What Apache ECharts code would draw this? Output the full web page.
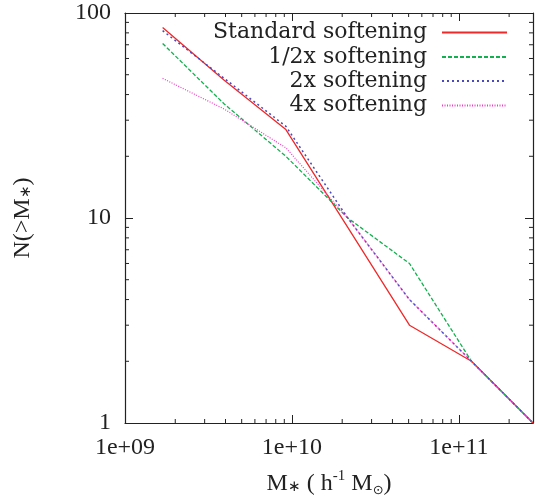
<!DOCTYPE html>
<html>
<head>
<meta charset="utf-8">
<script src="https://cdn.jsdelivr.net/npm/echarts@6/dist/echarts.min.js"></script>
<style>html,body{margin:0;padding:0;background:#fff}#c{width:535px;height:504px}</style>
</head>
<body>
<div id="c"></div>
<script>
// ---- data ----
const stellarMass = [1.68e9, 3.93e9, 9.2e9, 2.16e10, 5.06e10, 1.19e11, 2.78e11];
const standardSoftening = [85, 47, 27, 9, 3, 2, 1];
const halfSoftening = [71, 36, 20, 10, 6, 2, 1];
const doubleSoftening = [82, 48, 28, 10, 4, 2, 1];
const quadSoftening = [48, 34, 22, 10, 4, 2, 1];
const seriesNames = ['Standard softening', '1/2x softening', '2x softening', '4x softening'];
const xMin = 1e9, xMax = 2.78e11, yMin = 1, yMax = 100;
const xTickLabels = ['1e+09', '1e+10', '1e+11'];
const yTickLabels = ['1', '10', '100'];

const pairs = ys => stellarMass.map((x, i) => [x, ys[i]]);

// minor tick positions (2..9 x decade)
const xMinor = [], yMinor = [];
for (let d = 9; d <= 11; d++) for (let k = 2; k <= 9; k++) { const v = k * Math.pow(10, d); if (v < xMax) xMinor.push([v, yMin]); }
for (let d = 0; d <= 1; d++) for (let k = 2; k <= 9; k++) yMinor.push([xMin, k * Math.pow(10, d)]);

const TXT = '#222';
const tickFont = 'Liberation Serif';

function fmtX(v) {
  const l = Math.log10(v), e = Math.round(l);
  if (Math.abs(l - e) > 1e-6) return '';
  const s = xTickLabels.find(t => parseInt(t.split('+')[1], 10) === e);
  return s || '';
}
function fmtY(v) {
  const l = Math.log10(v), e = Math.round(l);
  if (Math.abs(l - e) > 1e-6) return '';
  return yTickLabels[e] || '';
}

const chart = echarts.init(document.getElementById('c'), null, {renderer: 'canvas'});

const lineSeries = (name, ys, color, type, width) => ({
  name, type: 'line', data: pairs(ys), symbol: 'none', showSymbol: false,
  xAxisIndex: 0, yAxisIndex: 0, animation: false, z: 3,
  lineStyle: {color, width, type}, itemStyle: {color}
});

const legendTops = [20.5, 45, 69, 93.5];
const legends = seriesNames.map((n, i) => ({
  data: [n], orient: 'vertical', align: 'right', right: 27, top: legendTops[i],
  padding: 0, itemWidth: 65, itemHeight: 14, selectedMode: false,
  itemStyle: {opacity: 0, color: 'transparent', borderWidth: 0},
  textStyle: {fontFamily: 'DejaVu Serif', fontSize: 22, color: TXT, lineHeight: 24, padding: [0, 10, 0, 0]}
}));

const tickStyle = {stroke: TXT, lineWidth: 1};

chart.setOption({
  animation: false,
  backgroundColor: '#fff',
  grid: {left: 125, right: 2, top: 13, bottom: 78, containLabel: false},
  legend: legends,
  xAxis: [
    {type: 'log', logBase: 10, min: xMin, max: xMax, position: 'bottom',
     axisLine: {show: true, lineStyle: {color: TXT, width: 1.2}},
     axisTick: {show: true, inside: true, length: 8, lineStyle: {color: TXT}},
     axisLabel: {show: true, formatter: fmtX, margin: 13, color: TXT, fontFamily: tickFont, fontSize: 24, showMaxLabel: false},
     splitLine: {show: false}, minorTick: {show: false},
     name: '{a|M}{s|∗}{a| ( h}{p|-1}{a| M}{o|⊙}{a|)}', nameLocation: 'middle', nameGap: 46,
     nameTextStyle: {rich: {
       a: {fontFamily: tickFont, fontSize: 24, color: TXT, lineHeight: 30},
       s: {fontFamily: tickFont, fontSize: 15, color: TXT, lineHeight: 30, padding: [6, 0, 0, 0]},
       p: {fontFamily: tickFont, fontSize: 15, color: TXT, verticalAlign: 'top', lineHeight: 30},
       o: {fontFamily: 'DejaVu Sans', fontSize: 13, color: TXT, verticalAlign: 'bottom', lineHeight: 30, padding: [0, 0, 2, 0]}
     }}},
    {type: 'log', logBase: 10, min: xMin, max: xMax, position: 'top', gridIndex: 0,
     axisLine: {show: true, lineStyle: {color: TXT, width: 1.2}},
     axisTick: {show: true, inside: true, length: 8, lineStyle: {color: TXT}},
     axisLabel: {show: false}, splitLine: {show: false}}
  ],
  yAxis: [
    {type: 'log', logBase: 10, min: yMin, max: yMax, position: 'left',
     axisLine: {show: true, lineStyle: {color: TXT, width: 1.2}},
     axisTick: {show: true, inside: true, length: 8, lineStyle: {color: TXT}},
     axisLabel: {show: true, formatter: fmtY, margin: 14, color: TXT, fontFamily: tickFont, fontSize: 24},
     splitLine: {show: false},
     name: '{a|N(>M}{s|∗}{a|)}', nameLocation: 'middle', nameGap: 87, nameRotate: 90,
     nameTextStyle: {rich: {
       a: {fontFamily: tickFont, fontSize: 24, color: TXT, lineHeight: 30},
       s: {fontFamily: tickFont, fontSize: 15, color: TXT, lineHeight: 30, padding: [6, 0, 0, 0]}
     }}},
    {type: 'log', logBase: 10, min: yMin, max: yMax, position: 'right', gridIndex: 0,
     axisLine: {show: true, lineStyle: {color: TXT, width: 1.2}},
     axisTick: {show: true, inside: true, length: 8, lineStyle: {color: TXT}},
     axisLabel: {show: false}, splitLine: {show: false}}
  ],
  series: [
    lineSeries(seriesNames[0], standardSoftening, '#f02828', 'solid', 1.3),
    lineSeries(seriesNames[1], halfSoftening, '#12b04e', [4, 2], 1.3),
    lineSeries(seriesNames[2], doubleSoftening, '#4848c0', [2, 3], 1.5),
    lineSeries(seriesNames[3], quadSoftening, '#f03cc8', [1, 1.5], 1.2),
    {type: 'custom', coordinateSystem: 'cartesian2d', xAxisIndex: 0, yAxisIndex: 0, data: xMinor, silent: true, z: 2,
     renderItem: (params, api) => {
       const v = api.value(0);
       const b = api.coord([v, yMin]), t = api.coord([v, yMax]);
       return {type: 'group', children: [
         {type: 'line', shape: {x1: b[0], y1: b[1], x2: b[0], y2: b[1] - 4}, style: tickStyle},
         {type: 'line', shape: {x1: t[0], y1: t[1], x2: t[0], y2: t[1] + 4}, style: tickStyle}
       ]};
     }},
    {type: 'custom', coordinateSystem: 'cartesian2d', xAxisIndex: 0, yAxisIndex: 0, data: yMinor, silent: true, z: 2,
     renderItem: (params, api) => {
       const v = api.value(1);
       const l = api.coord([xMin, v]), r = api.coord([xMax, v]);
       return {type: 'group', children: [
         {type: 'line', shape: {x1: l[0], y1: l[1], x2: l[0] + 4, y2: l[1]}, style: tickStyle},
         {type: 'line', shape: {x1: r[0], y1: r[1], x2: r[0] - 4, y2: r[1]}, style: tickStyle}
       ]};
     }}
  ]
});
</script>
</body>
</html>
